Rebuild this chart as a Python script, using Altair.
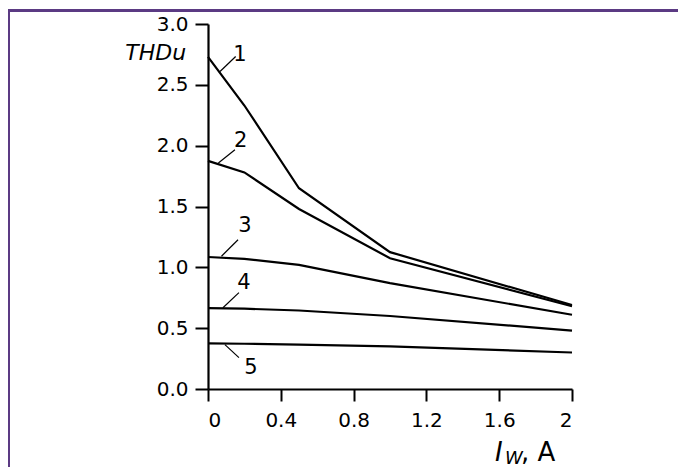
import altair as alt
import pandas as pd

# ---- data ----
x_vals = [0, 0.2, 0.5, 1.0, 2.0]
curve1 = [2.73, 2.33, 1.65, 1.125, 0.69]
curve2 = [1.875, 1.78, 1.48, 1.075, 0.68]
curve3 = [1.085, 1.07, 1.02, 0.87, 0.61]
curve4 = [0.665, 0.66, 0.645, 0.60, 0.48]
curve5 = [0.375, 0.372, 0.365, 0.35, 0.30]
curves = [curve1, curve2, curve3, curve4, curve5]

label_text = ["1", "2", "3", "4", "5"]
label_x = [0.176, 0.18, 0.203, 0.198, 0.236]
label_y = [2.747, 2.035, 1.336, 0.874, 0.175]
leader_x1 = [0.066, 0.057, 0.074, 0.082, 0.093]
leader_y1 = [2.61, 1.857, 1.091, 0.668, 0.365]
leader_x2 = [0.152, 0.148, 0.165, 0.170, 0.170]
leader_y2 = [2.733, 1.966, 1.227, 0.792, 0.258]

x_ticks = [0, 0.2, 0.4, 0.6, 0.8, 1.0, 1.2, 1.4, 1.6, 1.8, 2.0]
y_ticks = [0, 0.25, 0.5, 0.75, 1.0, 1.25, 1.5, 1.75, 2.0, 2.25, 2.5, 2.75, 3.0]

FONT = "DejaVu Sans"
W, H = 364, 365

rows = []
for i, c in enumerate(curves):
    for x, y in zip(x_vals, c):
        rows.append({"curve": label_text[i], "x": x, "y": y})
df = pd.DataFrame(rows)

lab_df = pd.DataFrame({"t": label_text, "x": label_x, "y": label_y,
                       "x1": leader_x1, "y1": leader_y1,
                       "x2": leader_x2, "y2": leader_y2})

xs = alt.Scale(domain=[0, 2], nice=False, zero=False)
ys = alt.Scale(domain=[0, 3], nice=False, zero=False)

x_axis = alt.Axis(
    values=x_ticks, title=None, grid=False,
    labelExpr="round(datum.value*10) % 4 === 0 ? format(datum.value, '~g') : ''",
    tickSize={"condition": {"test": "round(datum.value*10) % 4 === 0", "value": 12}, "value": 7},
    labelPadding=9,
)
y_axis = alt.Axis(
    values=y_ticks, title=None, grid=False,
    labelExpr="round(datum.value*4) % 2 === 0 ? format(datum.value, '.1f') : ''",
    tickSize={"condition": {"test": "round(datum.value*4) % 2 === 0", "value": 13}, "value": 7},
    labelPadding=7,
)

lines = alt.Chart(df).mark_line(color="black", strokeWidth=2.2).encode(
    x=alt.X("x:Q", scale=xs, axis=x_axis),
    y=alt.Y("y:Q", scale=ys, axis=y_axis),
    detail="curve:N",
)

leaders = alt.Chart(lab_df).mark_rule(color="black", strokeWidth=1.2).encode(
    x=alt.X("x1:Q", scale=xs), y=alt.Y("y1:Q", scale=ys),
    x2="x2:Q", y2="y2:Q",
)

labels = alt.Chart(lab_df).mark_text(font=FONT, fontSize=21, color="black",
                                     align="center", baseline="middle").encode(
    x=alt.X("x:Q", scale=xs), y=alt.Y("y:Q", scale=ys), text="t:N",
)

ytitle_df = pd.DataFrame({"t": ["THDu"], "x": [-0.12], "y": [2.76]})
ytitle = alt.Chart(ytitle_df).mark_text(font=FONT, fontSize=22, fontStyle="italic",
                                        color="black", align="right",
                                        baseline="middle").encode(
    x=alt.X("x:Q", scale=xs), y=alt.Y("y:Q", scale=ys), text="t:N",
)

xt_i = pd.DataFrame({"t": ["I"], "x": [1.577], "y": [-0.59]})
xt_w = pd.DataFrame({"t": ["W"], "x": [1.632], "y": [-0.615]})
xt_a = pd.DataFrame({"t": [", A"], "x": [1.72], "y": [-0.59]})


def title_part(d, size, style):
    return alt.Chart(d).mark_text(font=FONT, fontSize=size, fontStyle=style,
                                  color="black", align="left",
                                  baseline="alphabetic").encode(
        x=alt.X("x:Q", scale=xs), y=alt.Y("y:Q", scale=ys), text="t:N",
    )


xtitle = title_part(xt_i, 26, "italic") + title_part(xt_w, 18, "italic") + \
    title_part(xt_a, 26, "normal")

frame = alt.Chart(alt.Data(values=[{"a": 1}])).mark_rect(
    fill=None, stroke="#5b3a83", strokeWidth=3
).encode(
    x=alt.value(-199.5), x2=alt.value(520),
    y=alt.value(-13.5), y2=alt.value(520),
)

chart = alt.layer(frame, lines, leaders, labels, ytitle, xtitle).properties(
    width=W, height=H,
    padding={"left": 200, "top": 16, "right": 106, "bottom": 78},
    autosize=alt.AutoSizeParams(type="none"),
    background="white",
).configure_view(stroke=None).configure_axis(
    domainColor="black", domainWidth=2.2, tickColor="black", tickWidth=2,
    labelColor="black", labelFont=FONT, labelFontSize=20,
)

chart.save("out.html", embed_options={"renderer": "svg", "actions": False})
